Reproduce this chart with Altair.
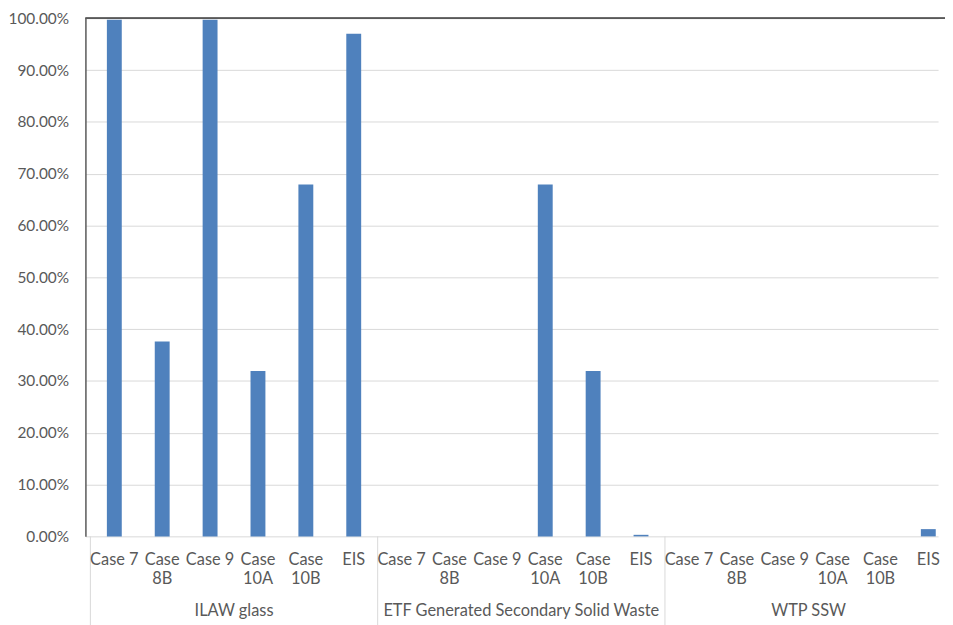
import altair as alt
import pandas as pd

groups = ["ILAW glass", "ETF Generated Secondary Solid Waste", "WTP SSW"]
cases = ["Case 7", "Case 8B", "Case 9", "Case 10A", "Case 10B", "EIS"]
case_labels = ["Case 7", "Case\n8B", "Case 9", "Case\n10A", "Case\n10B", "EIS"]
ilaw_glass = [0.997, 0.376, 0.997, 0.319, 0.679, 0.970]
etf_ssw = [0.0, 0.0, 0.0, 0.679, 0.319, 0.003]
wtp_ssw = [0.0, 0.0, 0.0, 0.0, 0.0, 0.014]
series = [ilaw_glass, etf_ssw, wtp_ssw]

rows = []
for g, (grp, vals) in enumerate(zip(groups, series)):
    for i, (c, lab, v) in enumerate(zip(cases, case_labels, vals)):
        rows.append({"group": grp, "case": c, "label": lab, "value": v,
                     "pos": g * len(cases) + i + 0.5})
df = pd.DataFrame(rows)

grp_df = pd.DataFrame({"group": groups,
                       "pos": [g * len(cases) + len(cases) / 2 for g in range(len(groups))]})
sep_df = pd.DataFrame({"pos": [g * len(cases) for g in range(len(groups))]})

W, H = 859, 522
RIGHT = 7
BOTTOM = 92
FONT = "Lato"
GREY = "#595959"

xscale = alt.Scale(domain=[0, 17.6], nice=False, zero=False)

bars = alt.Chart(df).mark_bar(size=15, color="#4F81BD").encode(
    x=alt.X("pos:Q", scale=xscale, axis=None),
    y=alt.Y("value:Q", scale=alt.Scale(domain=[0, 1], nice=False),
            axis=alt.Axis(format=".2%", values=[i / 10 for i in range(11)],
                          grid=True, gridColor="#d9d9d9", domainColor=GREY,
                          domainWidth=1.5, ticks=False, labelPadding=17,
                          labelFont=FONT, labelFontSize=15.5, labelColor=GREY,
                          title=None)),
)

case_text = alt.Chart(df).mark_text(baseline="top", lineBreak="\n", fontSize=16.5,
                                    font=FONT, color=GREY, lineHeight=19).encode(
    x=alt.X("pos:Q", scale=xscale, axis=None),
    y=alt.value(H + 16),
    text="label:N",
)

grp_text = alt.Chart(grp_df).mark_text(baseline="middle", fontSize=16.5,
                                       font=FONT, color=GREY).encode(
    x=alt.X("pos:Q", scale=xscale, axis=None),
    y=alt.value(H + 75),
    text="group:N",
)

seps = alt.Chart(sep_df).mark_rule(color="#d9d9d9").encode(
    x=alt.X("pos:Q", scale=xscale, axis=None),
    y=alt.value(H),
    y2=alt.value(H + BOTTOM),
)

top_line = alt.Chart(sep_df).mark_rule(color=GREY, strokeWidth=1.5).encode(
    x=alt.value(0), x2=alt.value(W + RIGHT), y=alt.value(0)
)

chart = alt.layer(seps, bars, case_text, grp_text, top_line).properties(
    width=W, height=H,
    autosize=alt.AutoSizeParams(type="none"),
    padding={"left": 78, "top": 8, "right": RIGHT, "bottom": BOTTOM},
).configure_view(stroke=None)

chart.save("out.html", embed_options={"renderer": "svg", "actions": False})
